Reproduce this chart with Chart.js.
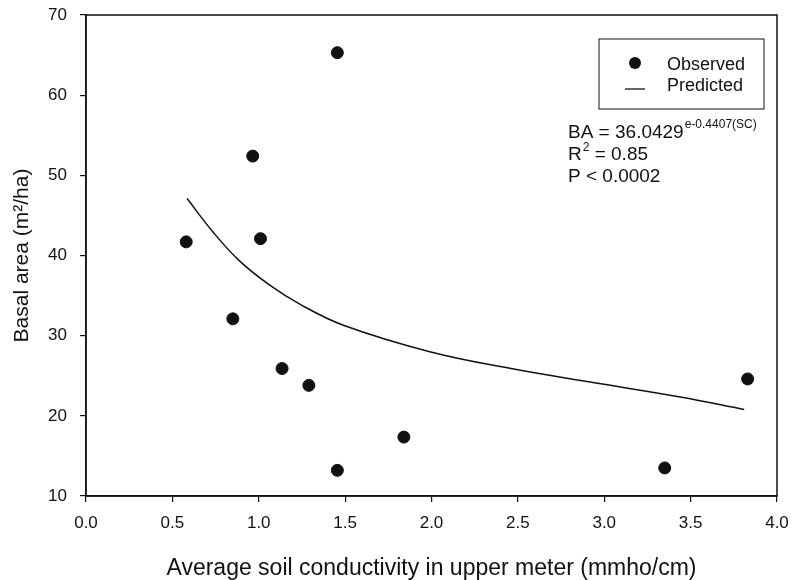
<!DOCTYPE html>
<html>
<head>
<meta charset="utf-8">
<script src="https://cdn.jsdelivr.net/npm/chart.js@4/dist/chart.umd.min.js"></script>
<style>
  html, body { margin: 0; padding: 0; background: #fff; }
  #wrap { width: 792px; height: 580px; position: relative; }
</style>
</head>
<body>
<div id="wrap"><canvas id="c" width="792" height="580"></canvas></div>
<script>
// Observed data (soil conductivity, basal area)
const obsX = [0.58, 0.85, 0.965, 1.01, 1.135, 1.29, 1.455, 1.455, 1.84, 3.35, 3.83];
const obsY = [41.7, 32.1, 52.4, 42.1, 25.9, 23.8, 65.3, 13.2, 17.35, 13.5, 24.6];
// Predicted curve
const predX = [0.585, 0.74, 0.89, 1.07, 1.24, 1.49, 1.99, 2.46, 2.98, 3.44, 3.81];
const predY = [47.1, 42.8, 39.3, 36.2, 33.9, 31.3, 28.0, 25.9, 24.0, 22.35, 20.8];
// Axis ticks
const xTicks = [0.0, 0.5, 1.0, 1.5, 2.0, 2.5, 3.0, 3.5, 4.0];
const yTicks = [10, 20, 30, 40, 50, 60, 70];
const seriesNames = ['Observed', 'Predicted'];
const eqLines = ['BA = 36.0429', 'e-0.4407(SC)', 'R', '2', ' = 0.85', 'P < 0.0002'];

const FONT = 'Arial, "Liberation Sans", Helvetica, sans-serif';
const INK = '#111';

const frameAndNotes = {
  id: 'frameAndNotes',
  afterDraw(chart) {
    const ctx = chart.ctx;
    const a = chart.chartArea;
    ctx.save();
    // frame
    ctx.strokeStyle = INK;
    ctx.lineWidth = 1.5;
    ctx.strokeRect(a.left, a.top, a.right - a.left, a.bottom - a.top);

    // legend box
    const lx = a.right - 178, ly = a.top + 24, lw = 165, lh = 70;
    ctx.lineWidth = 1;
    ctx.strokeRect(lx, ly, lw, lh);
    ctx.fillStyle = INK;
    ctx.beginPath();
    ctx.arc(lx + 36, ly + 24, 6, 0, Math.PI * 2);
    ctx.fill();
    ctx.lineWidth = 1.3;
    ctx.beginPath();
    ctx.moveTo(lx + 26, ly + 50);
    ctx.lineTo(lx + 46, ly + 50);
    ctx.stroke();
    ctx.font = '18px ' + FONT;
    ctx.textBaseline = 'middle';
    ctx.textAlign = 'left';
    ctx.fillText(seriesNames[0], lx + 68, ly + 26);
    ctx.fillText(seriesNames[1], lx + 68, ly + 47);

    // equation block
    const ex = a.left + 482;
    ctx.textBaseline = 'alphabetic';
    ctx.font = '19px ' + FONT;
    ctx.fillText(eqLines[0], ex, a.top + 123);
    const w0 = ctx.measureText(eqLines[0]).width;
    ctx.font = '12px ' + FONT;
    ctx.fillText(eqLines[1], ex + w0 + 1, a.top + 113);
    ctx.font = '19px ' + FONT;
    ctx.fillText(eqLines[2], ex, a.top + 145);
    const wr = ctx.measureText(eqLines[2]).width;
    ctx.font = '12px ' + FONT;
    ctx.fillText(eqLines[3], ex + wr + 1, a.top + 136);
    const w2 = ctx.measureText(eqLines[3]).width;
    ctx.font = '19px ' + FONT;
    ctx.fillText(eqLines[4], ex + wr + w2 + 1, a.top + 145);
    ctx.fillText(eqLines[5], ex, a.top + 167);
    ctx.restore();
  }
};

new Chart(document.getElementById('c'), {
  type: 'scatter',
  data: {
    datasets: [
      {
        label: seriesNames[0],
        data: obsX.map((x, i) => ({ x, y: obsY[i] })),
        backgroundColor: INK,
        borderColor: INK,
        pointRadius: 6,
        pointHoverRadius: 6,
        showLine: false
      },
      {
        label: seriesNames[1],
        data: predX.map((x, i) => ({ x, y: predY[i] })),
        borderColor: INK,
        borderWidth: 1.5,
        pointRadius: 0,
        showLine: true,
        tension: 0.4,
        fill: false
      }
    ]
  },
  options: {
    responsive: false,
    animation: false,
    devicePixelRatio: 1,
    layout: { padding: { top: 15, right: 15, left: 0, bottom: 0 } },
    plugins: { legend: { display: false }, tooltip: { enabled: false } },
    scales: {
      x: {
        type: 'linear',
        min: 0, max: 4,
        afterFit: s => { s.height = 84; s.paddingLeft = 0; s.paddingRight = 0; },
        afterBuildTicks: s => { s.ticks = xTicks.map(v => ({ value: v })); },
        ticks: {
          color: INK,
          font: { family: FONT, size: 17 },
          padding: 11,
          callback: v => Number(v).toFixed(1)
        },
        grid: { drawOnChartArea: false, drawTicks: true, tickLength: 6, color: INK, lineWidth: 1.2 },
        border: { display: true, color: INK, width: 1.5 },
        title: {
          display: true,
          text: 'Average soil conductivity in upper meter (mmho/cm)',
          color: INK,
          font: { family: FONT, size: 23 },
          padding: { top: 0, bottom: -2 }
        }
      },
      y: {
        type: 'linear',
        min: 10, max: 70,
        afterFit: s => { s.width = 86; s.paddingTop = 0; s.paddingBottom = 0; },
        afterBuildTicks: s => { s.ticks = yTicks.map(v => ({ value: v })); },
        ticks: {
          color: INK,
          font: { family: FONT, size: 17 },
          padding: 13
        },
        grid: { drawOnChartArea: false, drawTicks: true, tickLength: 6, color: INK, lineWidth: 1.2 },
        border: { display: true, color: INK, width: 1.5 },
        title: {
          display: true,
          text: 'Basal area (m\u00B2/ha)',
          color: INK,
          font: { family: FONT, size: 21 },
          padding: { top: 10, bottom: 0 }
        }
      }
    }
  },
  plugins: [frameAndNotes]
});
</script>
</body>
</html>
